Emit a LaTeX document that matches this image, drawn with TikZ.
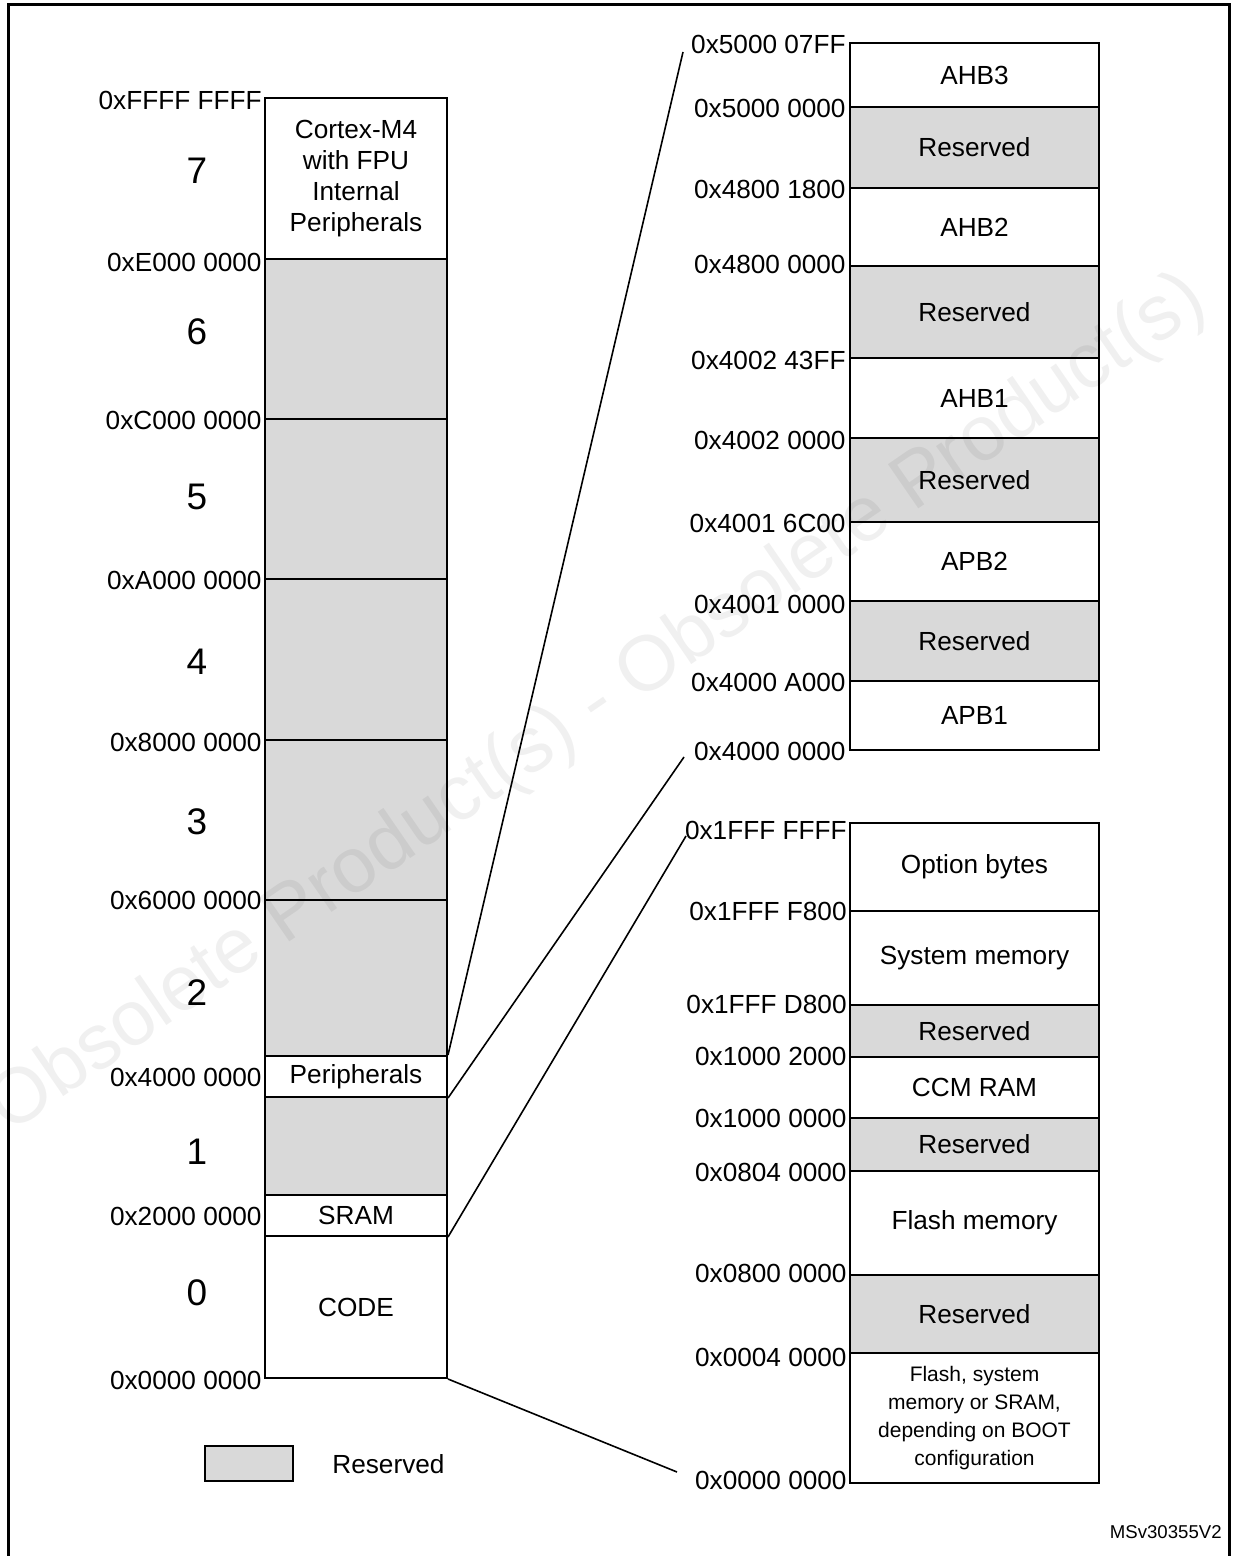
\documentclass[tikz,border=0pt]{standalone}
\usepackage{fontspec}
\setmainfont{Liberation Sans}
\usetikzlibrary{fit}
\definecolor{resgray}{RGB}{217,217,217}
\newcommand\regfont{\fontsize{13.1}{15.5}\selectfont}
\newcommand\segfont{\fontsize{18.5}{20}\selectfont}
\newcommand\bootfont{\fontsize{10.5}{14}\selectfont}
\newcommand\tagfont{\fontsize{9.3}{11}\selectfont}
\newcommand\wmfont{\fontsize{39}{40}\selectfont}
% name, x1, y1, x2, y2, style, text
\newcommand\mreg[7]{\node[#6, fit={(#2,#3) (#4,#5)}] (#1) {};
  \node[inner sep=0pt, align=center, font=\regfont, #6, draw=none, fill=none] (#1-t) at (#1.center) {#7};}
\begin{document}
\begin{tikzpicture}[x=0.5pt,y=-0.5pt,
  reg/.style={draw, line width=1pt, inner sep=0pt},
  wreg/.style={reg, fill=white},
  greg/.style={reg, fill=resgray},
  addr/.style={anchor=east, inner sep=0pt, font=\regfont},
  segno/.style={inner sep=0pt, font=\segfont},
  conn/.style={line width=0.8pt},
  frameline/.style={line width=1.5pt}]
\useasboundingbox (0,0) rectangle (1234,1556);
\draw[frameline] (8,1556) -- (8,5) -- (1229,5) -- (1229,1556);

% ---------- left column ----------
\mreg{cortex}{265}{98}{447}{259}{wreg}{Cortex-M4\\with FPU\\Internal\\Peripherals}
\mreg{r6}{265}{259}{447}{419}{greg}{}
\mreg{r5}{265}{419}{447}{579}{greg}{}
\mreg{r4}{265}{579}{447}{740}{greg}{}
\mreg{r3}{265}{740}{447}{900}{greg}{}
\mreg{r2}{265}{900}{447}{1056}{greg}{}
\mreg{periph}{265}{1056}{447}{1097}{wreg}{Peripherals}
\mreg{r1}{265}{1097}{447}{1195}{greg}{}
\mreg{sram}{265}{1195}{447}{1236}{wreg}{SRAM}
\mreg{code}{265}{1236}{447}{1378}{wreg}{CODE}

\node[addr] (lFFFF) at (262,100) {0xFFFF FFFF};
\node[addr] (lE000) at (262,262) {0xE000 0000};
\node[addr] (lC000) at (262,420) {0xC000 0000};
\node[addr] (lA000) at (262,580) {0xA000 0000};
\node[addr] (l8000) at (262,742) {0x8000 0000};
\node[addr] (l6000) at (262,900) {0x6000 0000};
\node[addr] (l4000) at (262,1077) {0x4000 0000};
\node[addr] (l2000) at (262,1216) {0x2000 0000};
\node[addr] (l0000) at (262,1380) {0x0000 0000};

\node[segno] (n7) at (197,171) {7};
\node[segno] (n6) at (197,332) {6};
\node[segno] (n5) at (197,497) {5};
\node[segno] (n4) at (197,662) {4};
\node[segno] (n3) at (197,822) {3};
\node[segno] (n2) at (197,993) {2};
\node[segno] (n1) at (197,1152) {1};
\node[segno] (n0) at (197,1293) {0};

% ---------- upper right column ----------
\mreg{ahb3}{850}{43}{1099}{107}{wreg}{AHB3}
\mreg{rsA}{850}{107}{1099}{188}{greg}{Reserved}
\mreg{ahb2}{850}{188}{1099}{266}{wreg}{AHB2}
\mreg{rsB}{850}{266}{1099}{358}{greg}{Reserved}
\mreg{ahb1}{850}{358}{1099}{438}{wreg}{AHB1}
\mreg{rsC}{850}{438}{1099}{522}{greg}{Reserved}
\mreg{apb2}{850}{522}{1099}{601}{wreg}{APB2}
\mreg{rsD}{850}{601}{1099}{681}{greg}{Reserved}
\mreg{apb1}{850}{681}{1099}{750}{wreg}{APB1}

\node[addr] (u1) at (846,44) {0x5000 07FF};
\node[addr] (u2) at (846,108) {0x5000 0000};
\node[addr] (u3) at (846,189) {0x4800 1800};
\node[addr] (u4) at (846,264) {0x4800 0000};
\node[addr] (u5) at (846,360) {0x4002 43FF};
\node[addr] (u6) at (846,440) {0x4002 0000};
\node[addr] (u7) at (846,523) {0x4001 6C00};
\node[addr] (u8) at (846,604) {0x4001 0000};
\node[addr] (u9) at (846,682) {0x4000 A000};
\node[addr] (u10) at (846,751) {0x4000 0000};

% ---------- lower right column ----------
\mreg{optb}{850}{823}{1099}{911}{wreg}{Option bytes}
\mreg{sysm}{850}{911}{1099}{1005}{wreg}{System memory}
\mreg{rsE}{850}{1005}{1099}{1057}{greg}{Reserved}
\mreg{ccm}{850}{1057}{1099}{1118}{wreg}{CCM RAM}
\mreg{rsF}{850}{1118}{1099}{1171}{greg}{Reserved}
\mreg{flash}{850}{1171}{1099}{1275}{wreg}{Flash memory}
\mreg{rsG}{850}{1275}{1099}{1353}{greg}{Reserved}
\mreg{boot}{850}{1353}{1099}{1483}{wreg,font=\bootfont}{Flash, system\\memory or SRAM,\\depending on BOOT\\configuration}

\node[addr] (d1) at (847,830) {0x1FFF FFFF};
\node[addr] (d2) at (847,911) {0x1FFF F800};
\node[addr] (d3) at (847,1004) {0x1FFF D800};
\node[addr] (d4) at (847,1056) {0x1000 2000};
\node[addr] (d5) at (847,1118) {0x1000 0000};
\node[addr] (d6) at (847,1172) {0x0804 0000};
\node[addr] (d7) at (847,1273) {0x0800 0000};
\node[addr] (d8) at (847,1357) {0x0004 0000};
\node[addr] (d9) at (847,1480) {0x0000 0000};

% ---------- connectors ----------
\coordinate (e1) at (683,52);
\coordinate (e2) at (684,757);
\coordinate (e3) at (686,836);
\coordinate (e4) at (677,1472);
\draw[conn] (periph.north east) -- (e1);
\draw[conn] (periph.south east) -- (e2);
\draw[conn] (sram.south east) -- (e3);
\draw[conn] (code.south east) -- (e4);

% ---------- legend ----------
\mreg{leg}{205}{1446}{293}{1481}{greg}{}
\node[anchor=west, inner sep=0pt, font=\regfont] (legtxt) at (332,1464) {Reserved};
\node[anchor=east, inner sep=0pt, font=\tagfont] (tag) at (1222,1532) {MSv30355V2};

% ---------- watermark ----------
\node[rotate=34.5, inner sep=0pt, font=\wmfont, text=black, text opacity=0.06] (wm) at (598,705) {Obsolete Product(s) - Obsolete Product(s)};
\end{tikzpicture}
\end{document}
